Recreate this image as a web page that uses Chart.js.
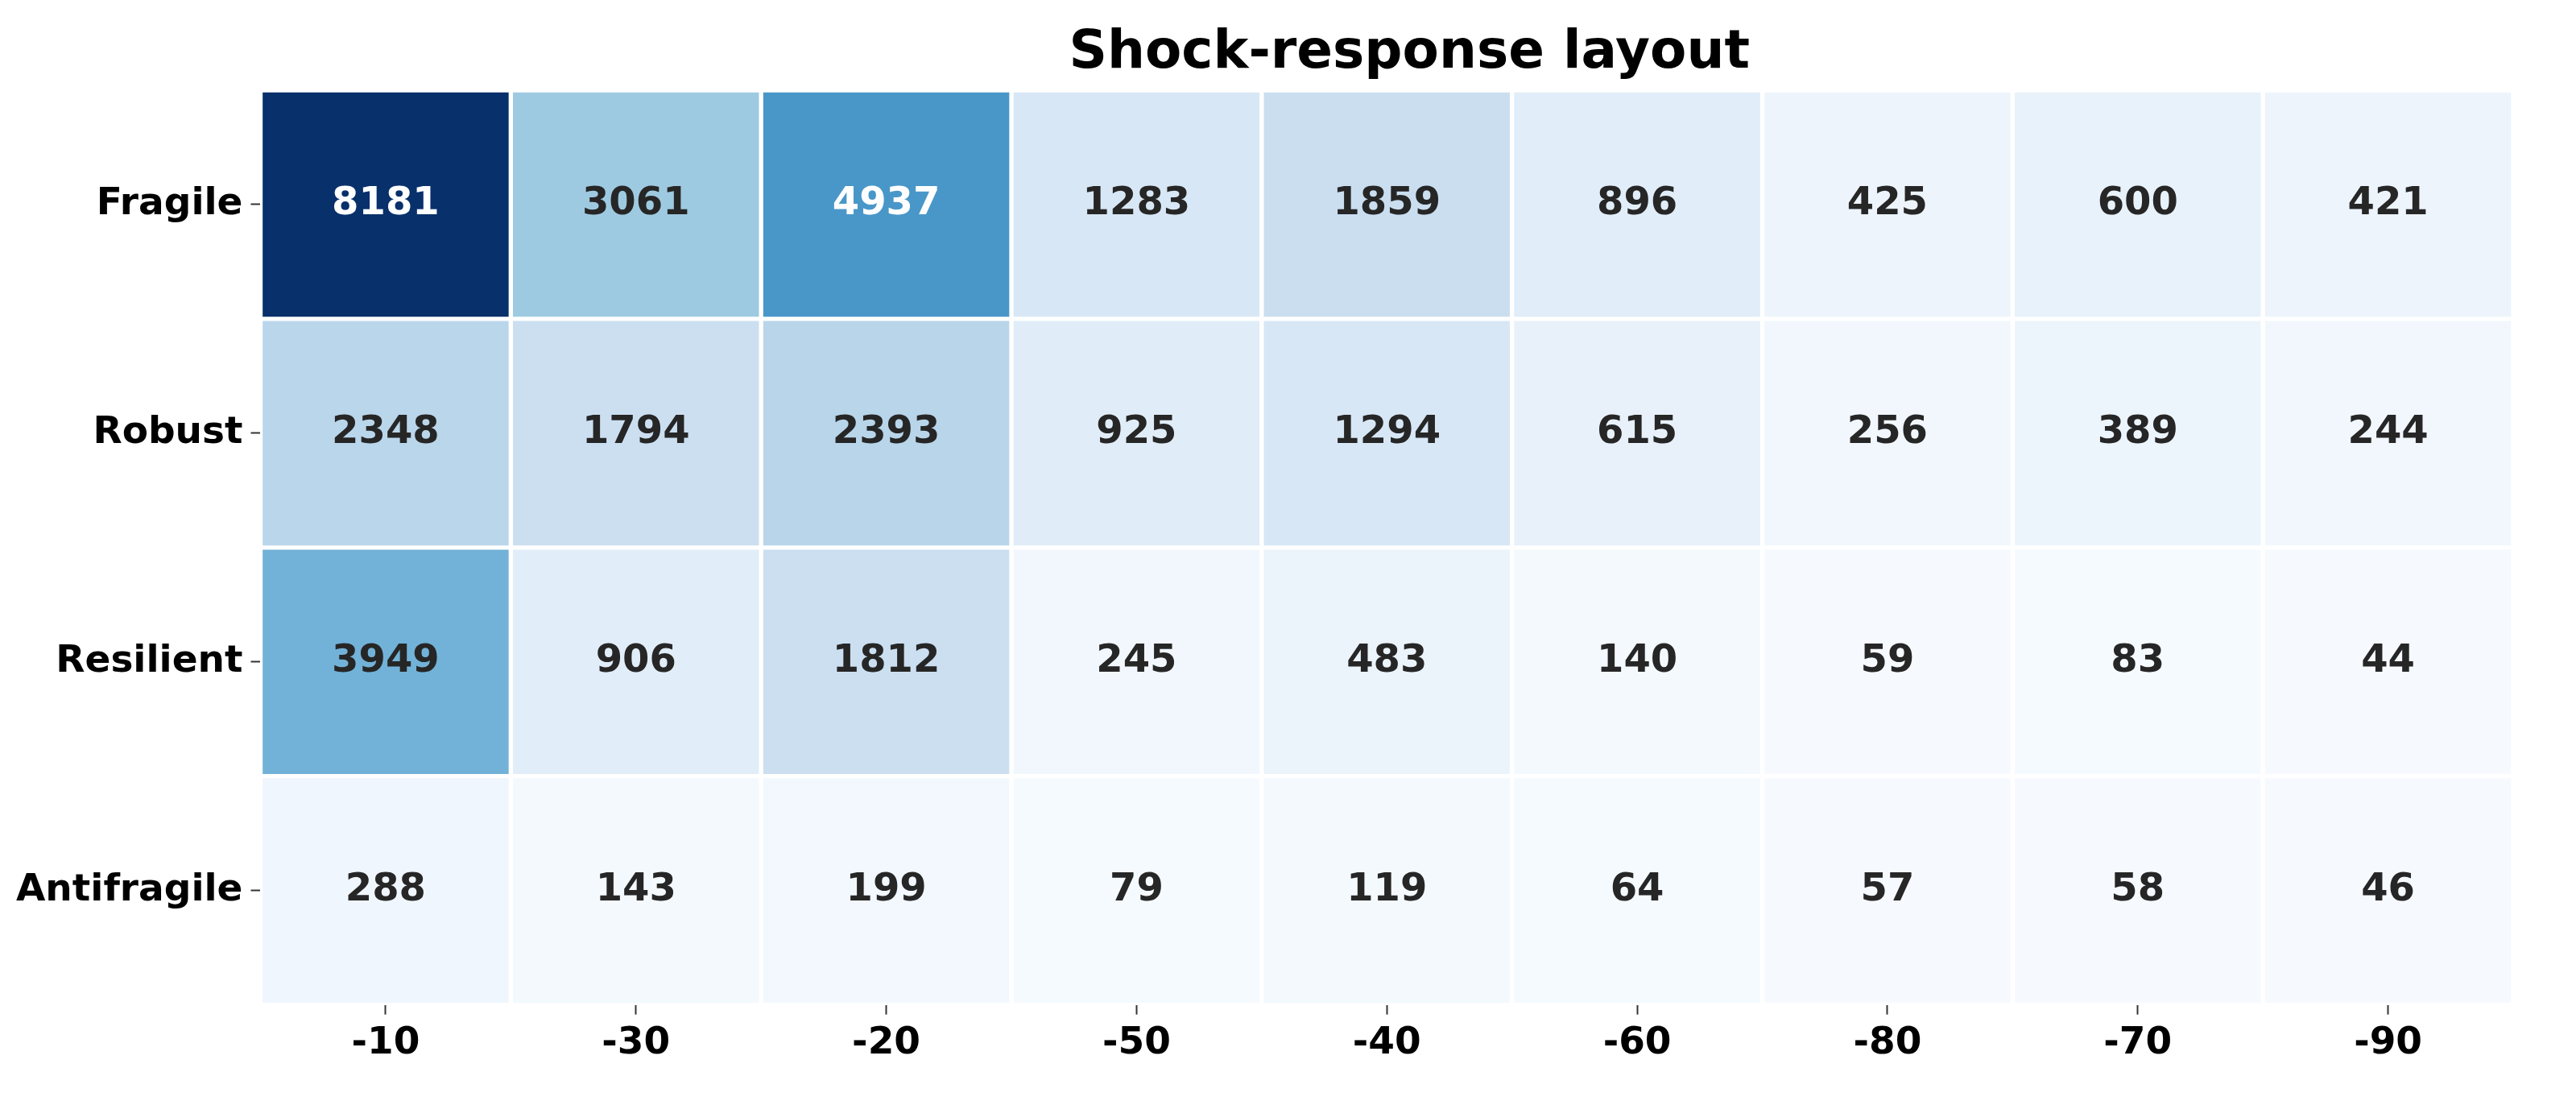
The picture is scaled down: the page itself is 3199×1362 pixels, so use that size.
<!DOCTYPE html>
<html>
<head>
<meta charset="utf-8">
<script src="https://cdn.jsdelivr.net/npm/chart.js@4"></script>
<style>
  body { margin: 0; background: #fff; }
  #wrap { width: 3199px; height: 1362px; }
</style>
</head>
<body>
<div id="wrap"><canvas id="heat"></canvas></div>
<script>
// columns and rows as they appear in the picture
const shocks = ["-10", "-30", "-20", "-50", "-40", "-60", "-80", "-70", "-90"];
const profiles = ["Fragile", "Robust", "Resilient", "Antifragile"];

const fragile = [8181, 3061, 4937, 1283, 1859, 896, 425, 600, 421];
const robust = [2348, 1794, 2393, 925, 1294, 615, 256, 389, 244];
const resilient = [3949, 906, 1812, 245, 483, 140, 59, 83, 44];
const antifragile = [288, 143, 199, 79, 119, 64, 57, 58, 46];

const rows = [fragile, robust, resilient, antifragile];
const vmax = 8181;

// matplotlib "Blues"
const blues = ["#f7fbff", "#deebf7", "#c6dbef", "#9ecae1", "#6baed6", "#4292c6", "#2171b5", "#08519c", "#08306b"];
function hex(c) { return [1, 3, 5].map(i => parseInt(c.slice(i, i + 2), 16)); }
function blueFor(v) {
    const t = Math.min(1, Math.max(0, v / vmax)) * (blues.length - 1);
    const i = Math.min(blues.length - 2, Math.floor(t));
    const f = t - i;
    const a = hex(blues[i]), b = hex(blues[i + 1]);
    const c = a.map((x, k) => Math.round(x + (b[k] - x) * f));
    return `rgb(${c[0]},${c[1]},${c[2]})`;
}

const n = profiles.length;
const datasets = rows.map((vals, r) => ({
    label: profiles[r],
    data: vals.map(() => [n - 1 - r, n - r]),
    values: vals,
    backgroundColor: vals.map(blueFor),
    borderColor: "#ffffff",
    borderWidth: 3,
    borderSkipped: false,
    grouped: false,
    barPercentage: 1,
    categoryPercentage: 1
}));

const cellText = {
    id: "cellText",
    afterDatasetsDraw(chart) {
        const ctx = chart.ctx;
        ctx.save();
        ctx.font = "bold 48px 'DejaVu Sans'";
        ctx.textAlign = "center";
        ctx.textBaseline = "middle";
        chart.data.datasets.forEach((ds, di) => {
            chart.getDatasetMeta(di).data.forEach((bar, i) => {
                const v = ds.values[i];
                ctx.fillStyle = v / vmax > 0.55 ? "#ffffff" : "#262626";
                ctx.fillText(String(v), bar.x, (bar.y + bar.base) / 2);
            });
        });
        // title centred over the plot area
        const a = chart.chartArea;
        ctx.fillStyle = "#000";
        ctx.font = "bold 66px 'DejaVu Sans'";
        ctx.textBaseline = "alphabetic";
        ctx.fillText("Shock-response layout", (a.left + a.right) / 2 + 28, 84);
        ctx.restore();
    }
};

const tickFont = { family: "DejaVu Sans", size: 47, weight: "bold" };

new Chart(document.getElementById("heat"), {
    type: "bar",
    data: { labels: shocks, datasets },
    plugins: [cellText],
    options: {
        responsive: true,
        maintainAspectRatio: false,
        animation: false,
        devicePixelRatio: 1,
        layout: { padding: { left: 10, right: 78, top: 112, bottom: 30 } },
        plugins: {
            legend: { display: false },
            tooltip: { enabled: false },
            title: { display: false }
        },
        scales: {
            x: {
                grid: { offset: false, drawOnChartArea: false, drawTicks: true, tickLength: 12, color: "#333", tickWidth: 2 },
                border: { display: false },
                ticks: { color: "#000", font: tickFont, padding: 8 }
            },
            y: {
                min: 0,
                max: n,
                afterBuildTicks: (scale) => {
                    scale.ticks = profiles.map((_, r) => ({ value: n - 0.5 - r }));
                },
                grid: { drawOnChartArea: false, drawTicks: true, tickLength: 12, color: "#333", tickWidth: 2 },
                border: { display: false },
                ticks: {
                    color: "#000",
                    font: tickFont,
                    padding: 10,
                    callback: (v) => profiles[Math.round(n - 0.5 - v)]
                }
            }
        }
    }
});
</script>
</body>
</html>
